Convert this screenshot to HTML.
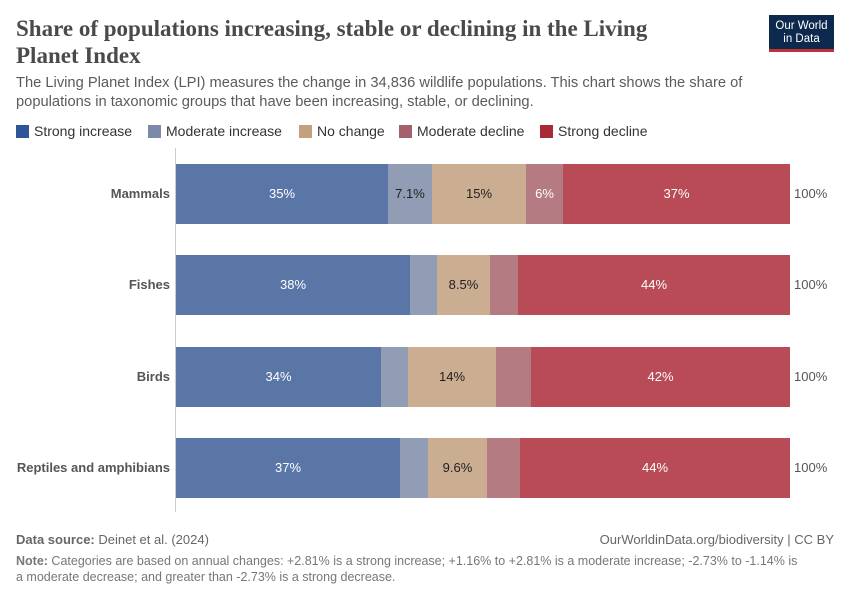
<!DOCTYPE html>
<html><head><style>
body{margin:0;width:850px;height:600px;background:#fff;font-family:"Liberation Sans",sans-serif;position:relative;overflow:hidden}
.a{position:absolute;white-space:nowrap}
.t{font-family:"Liberation Serif",serif;font-size:23px;color:#4a4a4a;left:16px;top:15px;line-height:27px;font-weight:bold}
.s{left:16px;top:74px;font-size:14.7px;color:#5b5b5b;line-height:19px}
.lg{top:123px;font-size:14px;color:#333}
.sw{position:absolute;width:13px;height:13px;top:125px}
.bar{position:absolute;height:60px}
.lab{position:absolute;font-size:13px;font-weight:bold;color:#555;text-align:right;width:160px;left:10px}
.v{position:absolute;font-size:13px;text-align:center;height:60px;line-height:60px}
.w{color:#fff}.k{color:#222}
.tot{position:absolute;left:794px;font-size:13px;color:#555}
</style></head><body>
<div class="a t">Share of populations increasing, stable or declining in the Living<br>Planet Index</div>
<div class="a" style="left:769px;top:15px;width:65px;height:37px;background:#0d2a4e;border-bottom:3px solid #c0303b;color:#fff;font-size:11.5px;line-height:13px;text-align:center;box-sizing:border-box;padding-top:5px">Our World<br>in Data</div>
<div class="a s">The Living Planet Index (LPI) measures the change in 34,836 wildlife populations. This chart shows the share of<br>populations in taxonomic groups that have been increasing, stable, or declining.</div>
<div class="sw" style="left:16px;background:#2f5597"></div><div class="a lg" style="left:34px">Strong increase</div>
<div class="sw" style="left:148px;background:#7a8aa8"></div><div class="a lg" style="left:166px">Moderate increase</div>
<div class="sw" style="left:299px;background:#c4a080"></div><div class="a lg" style="left:317px">No change</div>
<div class="sw" style="left:399px;background:#a4616c"></div><div class="a lg" style="left:417px">Moderate decline</div>
<div class="sw" style="left:540px;background:#a82a36"></div><div class="a lg" style="left:558px">Strong decline</div>
<div class="a" style="left:175px;top:148px;width:1px;height:364px;background:#ccc"></div>

<div id="c"></div>
<script>
const rows=[["Mammals",164,[388,432,526,563],["35%","7.1%","15%","6%","37%"]],
["Fishes",255,[410,437,490,518],["38%","","8.5%","","44%"]],
["Birds",347,[381,408,496,531],["34%","","14%","","42%"]],
["Reptiles and amphibians",438,[400,428,487,520],["37%","","9.6%","","44%"]]];
const cols=["#5a76a6","#909db5","#cbad91","#b47b82","#b84b56"];
const tc=["w","k","k","w","w"];
let h="";
for(const [n,y,e,v] of rows){
 const xs=[176,...e,790];
 h+=`<div class="lab" style="top:${y+22}px">${n}</div>`;
 for(let i=0;i<5;i++){
  h+=`<div class="bar" style="left:${xs[i]}px;top:${y}px;width:${xs[i+1]-xs[i]}px;background:${cols[i]}"></div>`;
  if(v[i])h+=`<div class="v ${tc[i]}" style="left:${xs[i]}px;top:${y}px;width:${xs[i+1]-xs[i]}px">${v[i]}</div>`;
 }
 h+=`<div class="tot" style="top:${y+22}px">100%</div>`;
}
document.getElementById("c").innerHTML=h;
</script>
<div class="a" style="left:16px;top:532px;font-size:13px;color:#666"><b>Data source:</b> Deinet et al. (2024)</div>
<div class="a" style="right:16px;top:532px;font-size:13px;color:#666">OurWorldinData.org/biodiversity | CC BY</div>
<div class="a" style="left:16px;top:554px;font-size:12.5px;color:#777;line-height:15.5px"><b>Note:</b> Categories are based on annual changes: +2.81% is a strong increase; +1.16% to +2.81% is a moderate increase; -2.73% to -1.14% is<br>a moderate decrease; and greater than -2.73% is a strong decrease.</div>
</body></html>
